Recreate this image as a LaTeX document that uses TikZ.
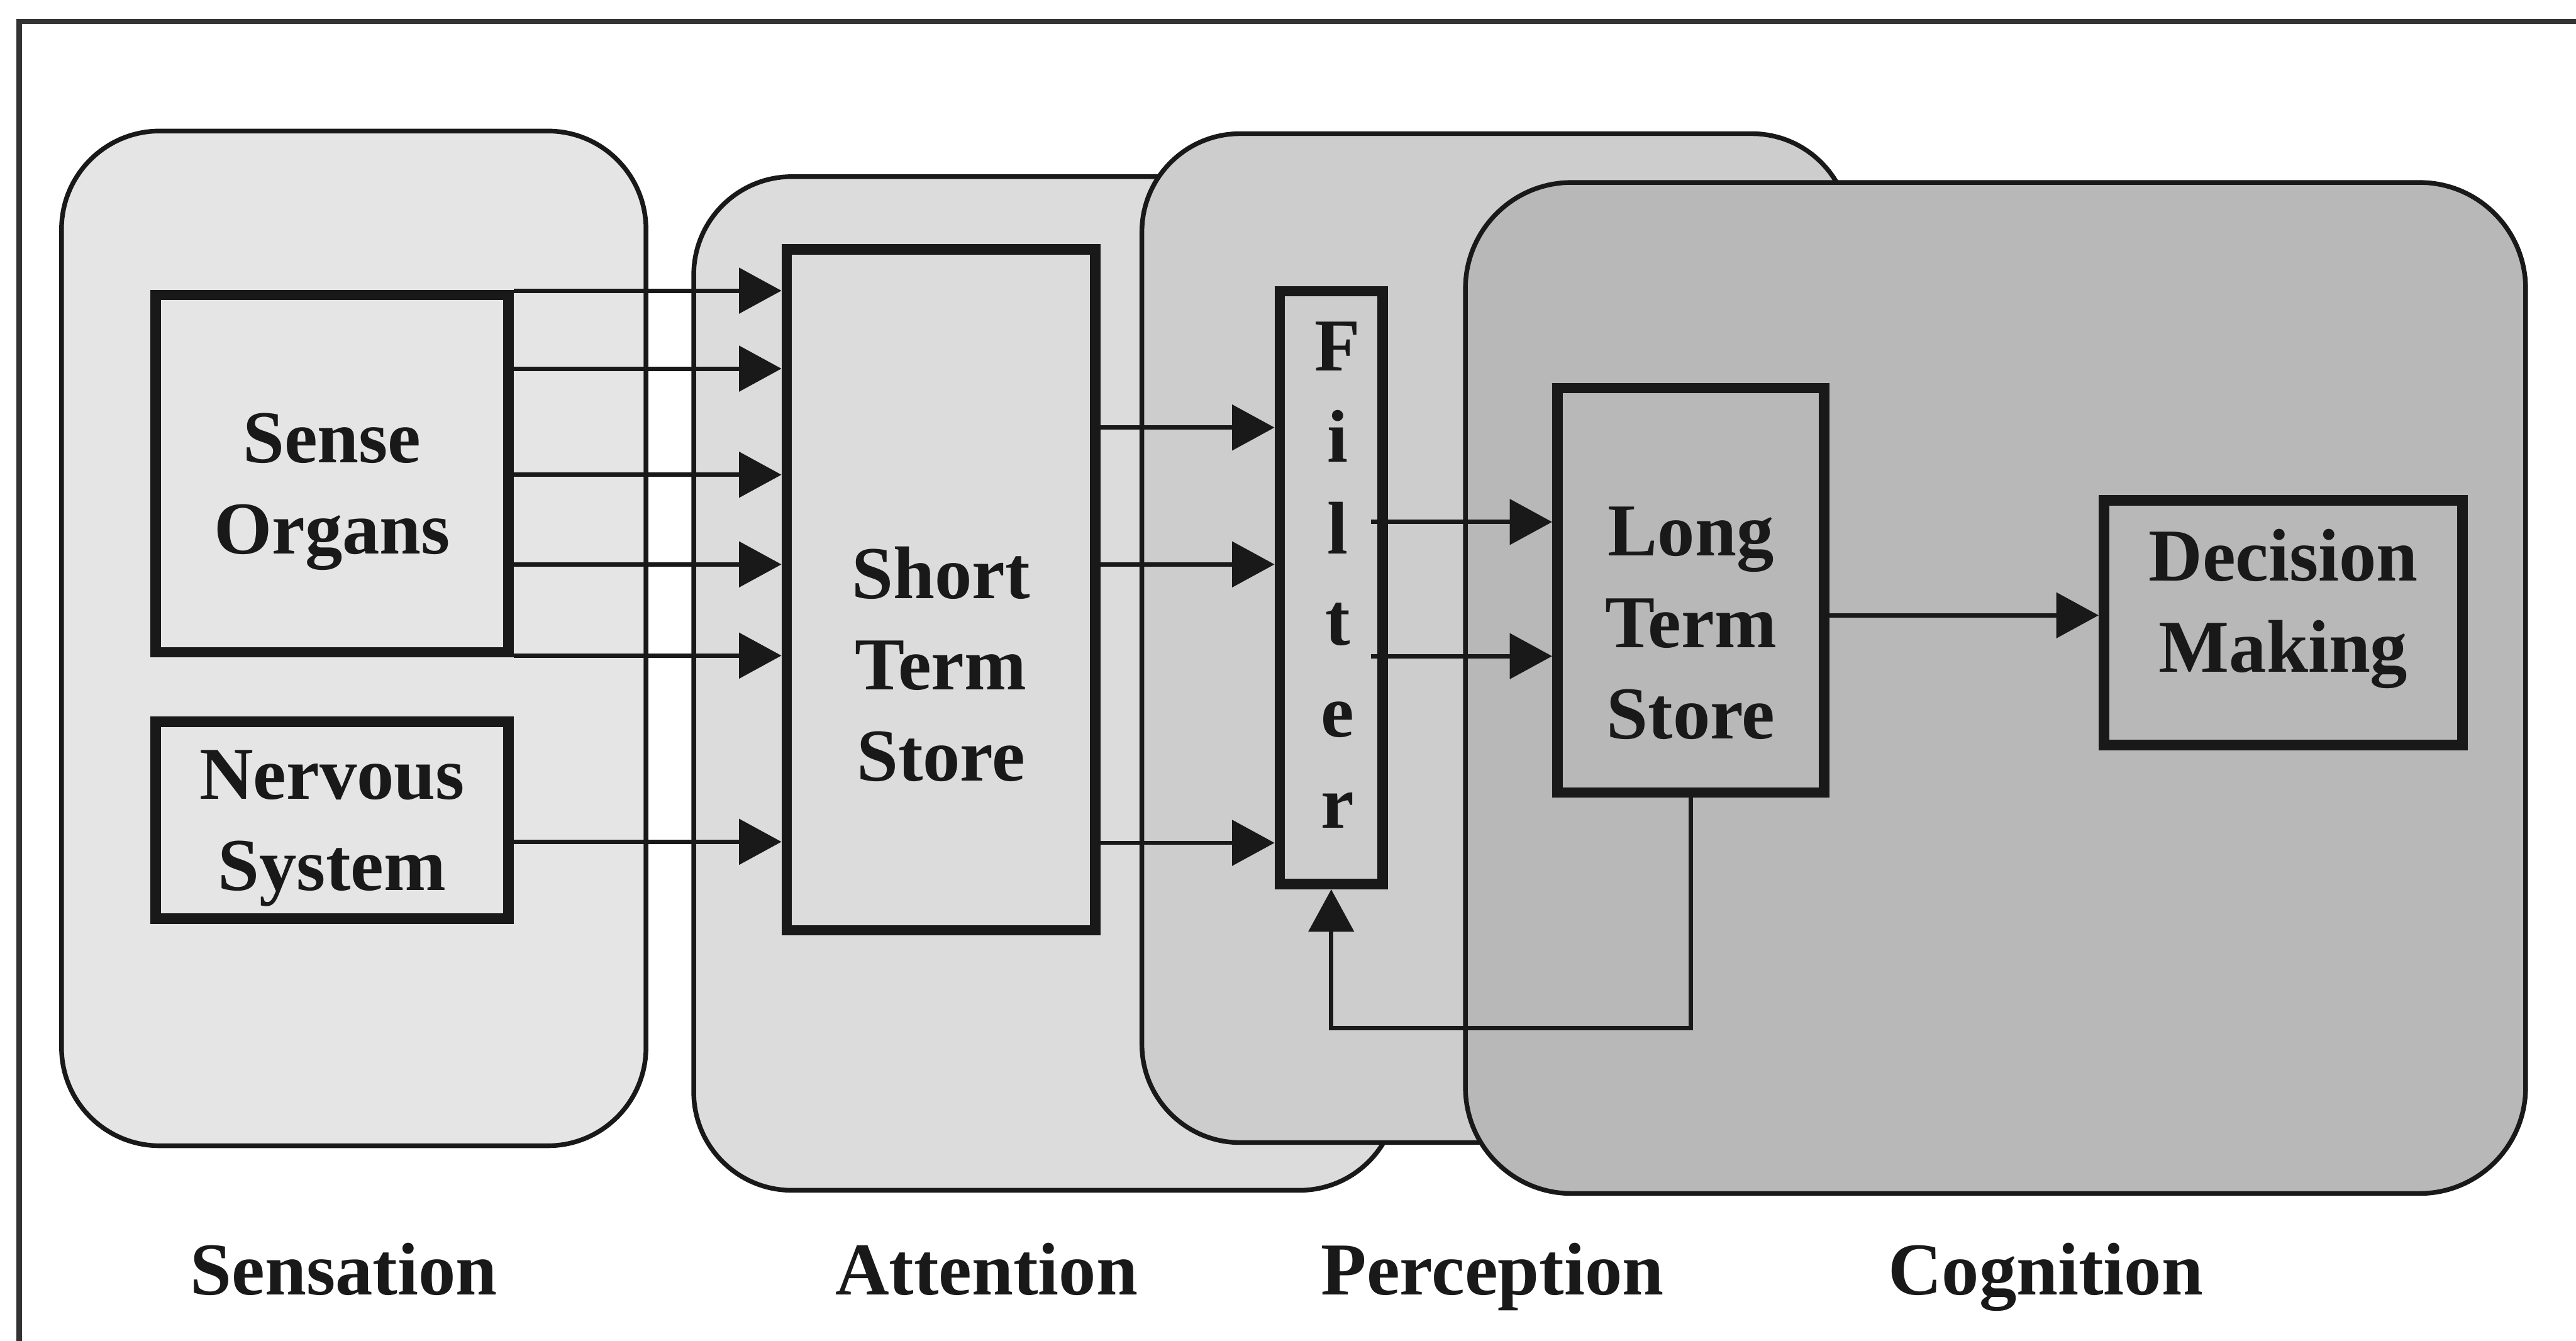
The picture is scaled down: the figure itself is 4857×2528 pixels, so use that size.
\documentclass[tikz,border=0pt]{standalone}
\usepackage{fontspec}
\setmainfont{Liberation Serif}
\usetikzlibrary{arrows.meta,calc}
\definecolor{sensfill}{RGB}{229,229,229}
\definecolor{attfill}{RGB}{220,220,220}
\definecolor{percfill}{RGB}{205,205,205}
\definecolor{cogfill}{RGB}{184,184,184}
\definecolor{ink}{RGB}{25,25,25}
\begin{document}
\begin{tikzpicture}[x=0.01cm, y=-0.01cm,
  region/.style={draw=ink, line width=2.5pt, rounded corners=1.85cm},
  unit/.style={draw=ink, line width=5.6pt, inner sep=0pt},
  caption/.style={font=\bfseries\fontsize{40}{49}\selectfont, align=center, inner sep=0pt, text=ink},
  flow/.style={draw=ink, line width=2.3pt, -{Triangle[length=0.8cm,width=0.85cm]}},
  framestyle/.style={draw=black!80, line width=2.8pt}
]
\useasboundingbox (0,0) rectangle (4857,2528);
\fill[white] (0,0) rectangle (4857,2528);

% outer frame (left and top edges)
\draw[framestyle] (36,2528) -- (36,40) -- (4857,40);

% stage regions, back to front
\path[region, fill=sensfill] (116,247) rectangle (1218,2160);
\path[region, fill=attfill]  (1308,333) rectangle (2635,2244);
\path[region, fill=percfill] (2153,252) rectangle (3488,2154);
\path[region, fill=cogfill, rounded corners=2cm] (2763,344) rectangle (4762,2250);

% processing units
\node[unit, minimum width=6.65cm, minimum height=6.73cm] (so)  at (626,893) {};
\node[unit, minimum width=6.65cm, minimum height=3.71cm] (ns)  at (626,1546) {};
\node[unit, minimum width=5.81cm, minimum height=12.83cm] (sts) at (1774,1112) {};
\node[unit, minimum width=1.94cm, minimum height=11.17cm] (filter) at (2510,1108) {};
\node[unit, minimum width=5.03cm, minimum height=7.62cm] (lts) at (3188,1113) {};
\node[unit, minimum width=6.76cm, minimum height=4.61cm] (dm)  at (4305,1174) {};

% unit texts
\node[caption] (sotext)  at (626,927)  {Sense\\Organs};
\node[caption] (nstext)  at (626,1562) {Nervous\\System};
\node[caption] (ststext) at (1774,1252) {Short\\Term\\Store};
\node[caption] (ltstext) at (3188,1175) {Long\\Term\\Store};
\node[caption] (dmtext)  at (4305,1148) {Decision\\Making};
\foreach \ch [count=\i] in {F,i,l,t,e,r}
  \node[caption, anchor=base] (filt\i) at (2522,{699+172.4*(\i-1)}) {\ch};

% stage names
\node[caption, anchor=base] (lsens) at (648,2441)  {Sensation};
\node[caption, anchor=base] (latt)  at (1860,2441) {Attention};
\node[caption, anchor=base] (lperc) at (2814,2441) {Perception};
\node[caption, anchor=base] (lcog)  at (3857,2441) {Cognition};

% sensory channels into the short term store
\foreach \yy in {548,695,895,1064,1236}
  \draw[flow] (so.east |- 0,\yy) -- (sts.west |- 0,\yy);
\draw[flow] (ns.east |- 0,1587) -- (sts.west |- 0,1587);

% short term store to filter
\foreach \yy in {806,1064,1589}
  \draw[flow] (sts.east |- 0,\yy) -- (filter.west |- 0,\yy);

% filter to long term store
\foreach \yy in {984,1237}
  \draw[flow] ($(filter.east |- 0,\yy)+(-32,0)$) -- (lts.west |- 0,\yy);

% long term store to decision making
\draw[flow] (lts.east |- 0,1160) -- (dm.west |- 0,1160);

% feedback from long term store to filter
\coordinate (fb) at (2510,1938);
\draw[flow] (lts.south) |- (filter.south |- fb) -- (filter.south);
\end{tikzpicture}
\end{document}
